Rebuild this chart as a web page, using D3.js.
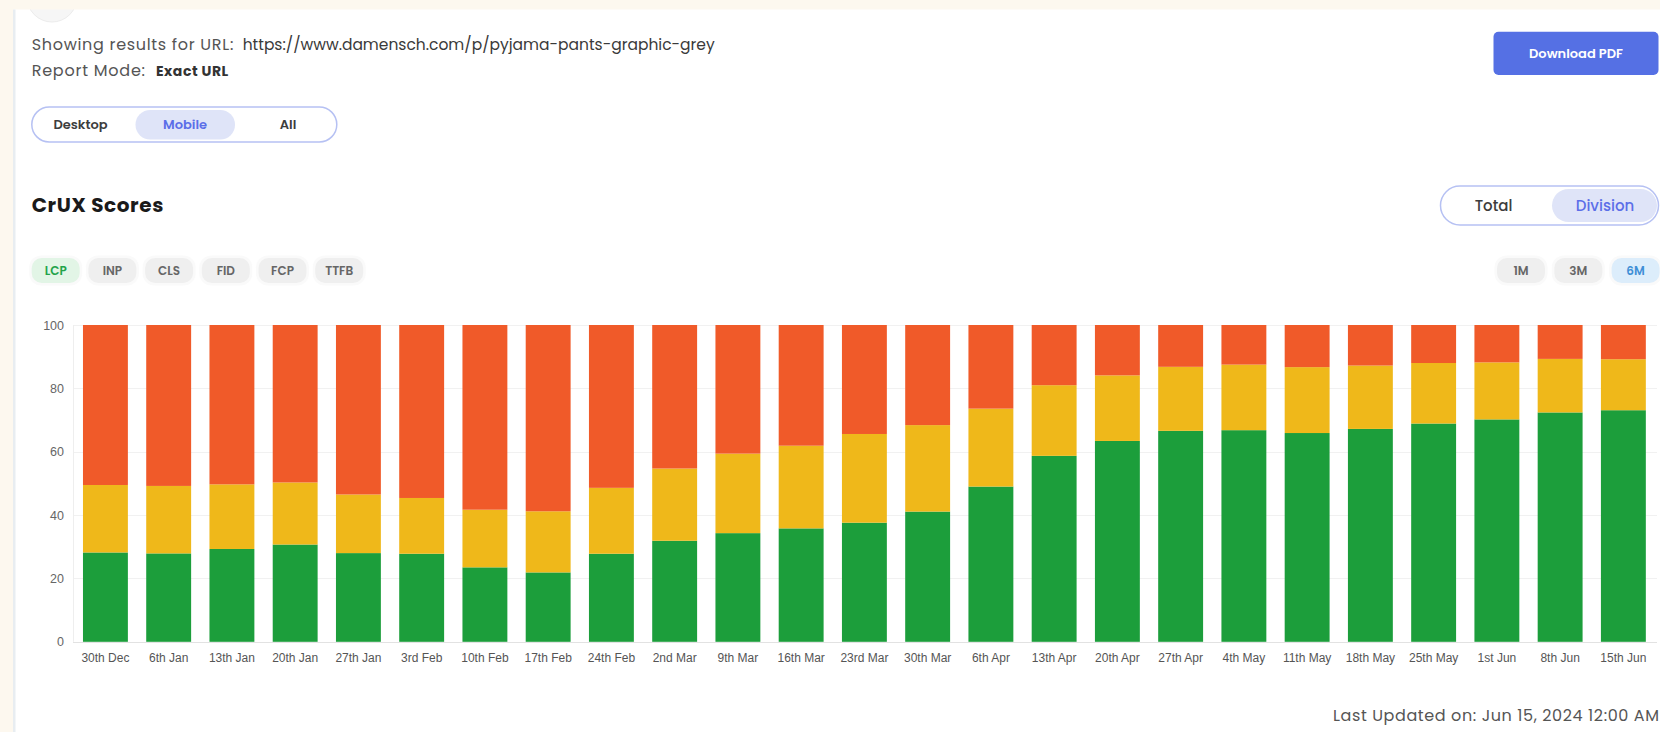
<!DOCTYPE html>
<html>
<head>
<meta charset="utf-8">
<script src="https://cdn.jsdelivr.net/npm/d3@7"></script>
<style>
  html, body { margin: 0; padding: 0; background: #ffffff; }
  svg { display: block; }
</style>
</head>
<body>
<svg id="page" width="1660" height="732"></svg>
<script>
// Weekly CrUX LCP distribution for mobile visitors (percent of page loads)
const weeks = ["30th Dec", "6th Jan", "13th Jan", "20th Jan", "27th Jan", "3rd Feb", "10th Feb",
  "17th Feb", "24th Feb", "2nd Mar", "9th Mar", "16th Mar", "23rd Mar", "30th Mar", "6th Apr",
  "13th Apr", "20th Apr", "27th Apr", "4th May", "11th May", "18th May", "25th May", "1st Jun",
  "8th Jun", "15th Jun"];
const good = [28.2, 27.9, 29.3, 30.7, 28.0, 27.8, 23.5, 21.9, 27.8, 31.9, 34.3, 35.8, 37.6, 41.1,
  49.0, 58.7, 63.4, 66.6, 66.8, 65.9, 67.2, 68.9, 70.2, 72.4, 73.1];
const needsImprovement = [21.3, 21.3, 20.4, 19.6, 18.5, 17.6, 18.2, 19.3, 20.8, 22.8, 25.1, 26.1,
  28.0, 27.3, 24.6, 22.3, 20.7, 20.2, 20.7, 20.8, 20.0, 19.1, 18.0, 16.9, 16.1];
const poor = [50.5, 50.8, 50.3, 49.7, 53.5, 54.6, 58.3, 58.8, 51.4, 45.3, 40.6, 38.1, 34.4, 31.6,
  26.4, 19.0, 15.9, 13.2, 12.5, 13.3, 12.8, 12.0, 11.8, 10.7, 10.8];
const yTicks = [0, 20, 40, 60, 80, 100];

const metricTabs = ["LCP", "INP", "CLS", "FID", "FCP", "TTFB"];
const rangeTabs = ["1M", "3M", "6M"];
const deviceTabs = ["Desktop", "Mobile", "All"];
const viewTabs = ["Total", "Division"];
const pageUrl = "https://www.damensch.com/p/pyjama-pants-graphic-grey";
const lastUpdated = "Last Updated on: Jun 15, 2024 12:00 AM";

const uiFont = "Poppins, Inter, 'Open Sans', sans-serif";
const chartFont = "'Helvetica Neue', Helvetica, Arial, 'Liberation Sans', sans-serif";

const svg = d3.select("#page");

// ---------- page chrome ----------
svg.append("circle").attr("cx", 52).attr("cy", -3).attr("r", 25)
  .attr("fill", "#f6f6f6").attr("stroke", "#ececec");
svg.append("rect").attr("x", 0).attr("y", 0).attr("width", 1660).attr("height", 9.5).attr("fill", "#fdf8ef");
svg.append("rect").attr("x", 0).attr("y", 0).attr("width", 13).attr("height", 732).attr("fill", "#fdf8ef");
svg.append("rect").attr("x", 13).attr("y", 9.5).attr("width", 2.5).attr("height", 723).attr("fill", "#e8edf1");

// Fixed-width text helper: Poppins-like widths with the installed fallback font
function label(parent, x, yPos, txt, width, opts) {
  const t = parent.append("text").attr("x", x).attr("y", yPos)
    .attr("font-family", uiFont).attr("font-size", opts.size).attr("fill", opts.fill)
    .attr("font-weight", opts.weight || 400).text(txt);
  if (width) t.attr("textLength", width).attr("lengthAdjust", "spacing");
  return t;
}

// ---------- header text ----------
const hdr = svg.append("g");
label(hdr, 31.7, 50, "Showing results for URL:", 201.6, {size: 16, fill: "#555"});
label(hdr, 242.7, 50, pageUrl, null, {size: 15.5, fill: "#3a3a3a"});
label(hdr, 31.7, 76, "Report Mode:", 113.3, {size: 16, fill: "#555"});
label(hdr, 156, 76, "Exact URL", 72.3, {size: 14, fill: "#333", weight: 700});

// Download button
const btn = svg.append("g");
btn.append("rect").attr("x", 1493.5).attr("y", 31.8).attr("width", 165).attr("height", 43.2)
  .attr("rx", 5).attr("fill", "#5570e4");
btn.append("text").attr("x", 1576).attr("y", 53.6).attr("text-anchor", "middle")
  .attr("dominant-baseline", "central").attr("font-family", uiFont).attr("font-size", 13)
  .attr("font-weight", 600).attr("fill", "#ffffff").text("Download PDF");

// ---------- segmented toggles ----------
function toggle(items, active, box, pill, centers, size, weight) {
  const g = svg.append("g").attr("font-family", uiFont);
  g.append("rect").attr("x", box.x).attr("y", box.y).attr("width", box.w).attr("height", box.h)
    .attr("rx", box.h / 2).attr("fill", "#fff").attr("stroke", "#b6c1f3").attr("stroke-width", 1.5);
  g.append("rect").attr("x", pill.x).attr("y", pill.y).attr("width", pill.w).attr("height", pill.h)
    .attr("rx", pill.h / 2).attr("fill", "#dfe4f8");
  g.selectAll("text.t").data(items).join("text")
    .attr("x", (d, i) => centers[i]).attr("y", box.y + box.h / 2)
    .attr("text-anchor", "middle").attr("dominant-baseline", "central")
    .attr("font-size", size).attr("font-weight", weight)
    .attr("fill", d => d === active ? "#5b6ee8" : "#3d3d3d").text(d => d);
}
toggle(deviceTabs, "Mobile", {x: 31.8, y: 107, w: 305, h: 35}, {x: 135.5, y: 110, w: 99.5, h: 29.5},
  [80.5, 185, 288], 13, 600);
toggle(viewTabs, "Division", {x: 1440.5, y: 186, w: 218, h: 39}, {x: 1552, y: 189, w: 105, h: 33},
  [1493.5, 1605], 15, 500);

// Section title
label(svg, 31.7, 212, "CrUX Scores", 131.6, {size: 20, fill: "#1a1a1a", weight: 700});

// ---------- chips ----------
function chips(items, x0, step, activeKey, activeFill, activeText) {
  const g = svg.append("g").attr("font-family", uiFont);
  const c = g.selectAll("g").data(items).join("g")
    .attr("transform", (d, i) => `translate(${x0 + i * step},258)`);
  c.append("rect").attr("x", -2.5).attr("y", -2.5).attr("width", 53).attr("height", 30).attr("rx", 12)
    .attr("fill", "#fafafa");
  c.append("rect").attr("width", 48).attr("height", 25).attr("rx", 10)
    .attr("fill", d => d === activeKey ? activeFill : "#efefef");
  c.append("text").attr("x", 24).attr("y", 12.8).attr("text-anchor", "middle")
    .attr("dominant-baseline", "central").attr("font-size", 12).attr("font-weight", 600)
    .attr("fill", d => d === activeKey ? activeText : "#666").text(d => d);
}
chips(metricTabs, 31.7, 56.7, "LCP", "#e2f5e6", "#22a34a");
chips(rangeTabs, 1497, 57.3, "6M", "#dcedfb", "#3f8fd6");

// ---------- stacked bar chart ----------
const rows = weeks.map((w, i) => ({week: w, good: good[i], ni: needsImprovement[i], poor: poor[i]}));
const series = d3.stack().keys(["good", "ni", "poor"])(rows);
const fills = {good: "#1c9e3b", ni: "#efb81a", poor: "#f05a29"};

const x = d3.scaleBand().domain(weeks).range([73.8, 1655]).paddingInner(0.29).paddingOuter(0.145);
const y = d3.scaleLinear().domain([0, 100]).range([641.8, 325]);
const plotLeft = 73, plotRight = 1657;

const chart = svg.append("g");
// horizontal grid
chart.append("g").selectAll("line").data(yTicks).join("line")
  .attr("x1", plotLeft).attr("x2", plotRight)
  .attr("y1", d => Math.round(y(d)) + 0.5).attr("y2", d => Math.round(y(d)) + 0.5)
  .attr("stroke", d => d === 0 ? "#e2e2e2" : "#f1f1f1").attr("stroke-width", 1);
chart.append("line").attr("x1", plotLeft + 0.5).attr("x2", plotLeft + 0.5)
  .attr("y1", y(100)).attr("y2", y(0)).attr("stroke", "#eeeeee");

chart.append("g").selectAll("g").data(series).join("g")
  .attr("fill", s => fills[s.key])
  .selectAll("rect").data(s => s).join("rect")
  .attr("x", d => x(d.data.week)).attr("width", x.bandwidth())
  .attr("y", d => y(d[1])).attr("height", d => y(d[0]) - y(d[1]));

// axes
const yAxis = chart.append("g").attr("transform", "translate(64,0)")
  .call(d3.axisLeft(y).tickValues(yTicks).tickSize(0).tickPadding(0));
yAxis.select(".domain").remove();
yAxis.selectAll("text").attr("font-family", chartFont).attr("font-size", 12.5).attr("fill", "#666");

const xAxis = chart.append("g").attr("transform", `translate(0,${y(0) + 12})`)
  .call(d3.axisBottom(x).tickSize(0).tickPadding(0));
xAxis.select(".domain").remove();
xAxis.selectAll("text").attr("font-family", chartFont).attr("font-size", 12).attr("fill", "#555")
  .attr("dy", "0.71em");

// footer
label(svg, 1333, 721, lastUpdated, 326, {size: 16, fill: "#555"});
</script>
</body>
</html>
